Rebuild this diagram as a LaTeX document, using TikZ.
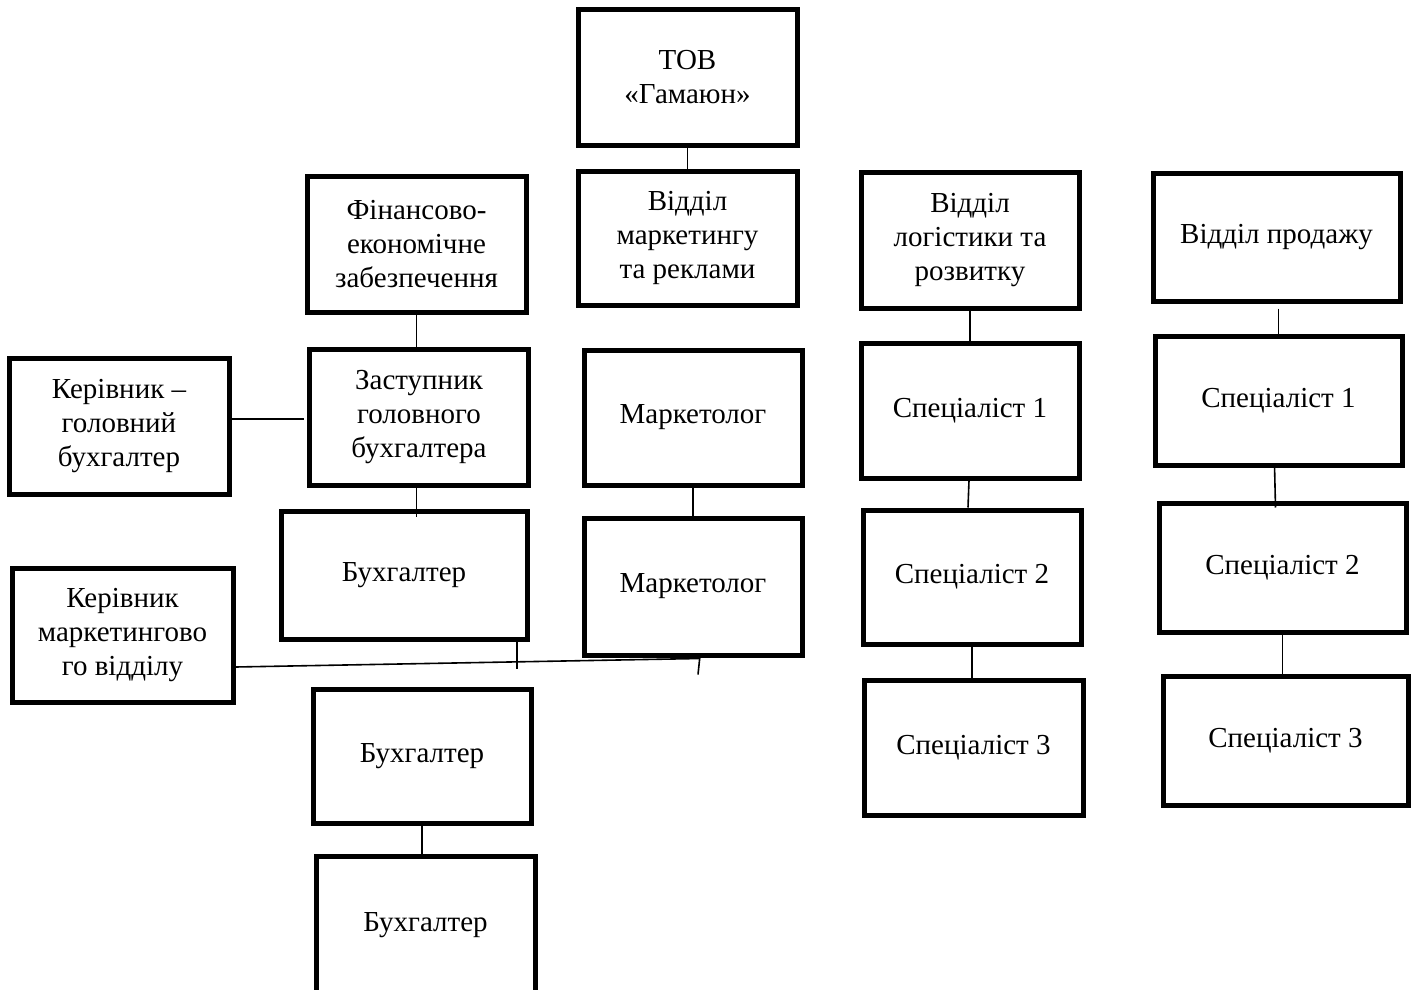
\documentclass[tikz,border=0pt]{standalone}
\usepackage{fontspec}
\setmainfont{Liberation Serif}
\usetikzlibrary{positioning, calc}

\begin{document}
\begin{tikzpicture}[x=1pt, y=-1pt,
    box/.style={draw, line width=5pt, rectangle, align=center, inner sep=0pt,
      font=\fontsize{29}{34}\selectfont},
    wh/.style 2 args={minimum width=#1pt, minimum height=#2pt},
    link/.style={line width=1.6pt}]
    \useasboundingbox (0,0) rectangle (1417,990);
    \clip (0,0) rectangle (1417,990);
    % керівництво
    \node[box, wh={219}{135}] (tov) at (687.5,77.5) {ТОВ\\«Гамаюн»};
    % відділи
    \node[box, wh={219}{136}] (fin) at (416.5,244) {Фінансово-\\економічне\\забезпечення};
    \node[box, wh={219}{134}] (mkt) at (687.5,238) {Відділ\\маркетингу\\та реклами};
    \node[box, wh={218}{136}] (log) at (970,240) {Відділ\\логістики та\\розвитку};
    \node[box, wh={247}{128}] (sales) at (1276.5,237) {Відділ продажу};
    % бухгалтерія
    \node[box, wh={220}{136}] (kerbuh) at (119,426) {Керівник –\\головний\\бухгалтер};
    \node[box, wh={219}{136}] (zast) at (419,417) {Заступник\\головного\\бухгалтера};
    \node[box, wh={246}{128}] (buh1) at (404,575) {Бухгалтер};
    \node[box, wh={221}{134}] (kermark) at (122.5,635) {Керівник\\маркетингово\\го відділу};
    \node[box, wh={218}{134}] (buh2) at (422,756) {Бухгалтер};
    \node[box, wh={219}{138}] (buh3) at (425.5,925) {Бухгалтер};
    % маркетинг
    \node[box, wh={218}{135}] (mkt1) at (693,417.5) {Маркетолог};
    \node[box, wh={218}{137}] (mkt2) at (693,586.5) {Маркетолог};
    % логістика
    \node[box, wh={218}{135}] (log1) at (970,410.5) {Спеціаліст 1};
    \node[box, wh={218}{134}] (log2) at (972,577) {Спеціаліст 2};
    \node[box, wh={219}{135}] (log3) at (973.5,747.5) {Спеціаліст 3};
    % продаж
    \node[box, wh={247}{129}] (sales1) at (1278.5,400.5) {Спеціаліст 1};
    \node[box, wh={247}{129}] (sales2) at (1282.5,567.5) {Спеціаліст 2};
    \node[box, wh={245}{129}] (sales3) at (1285.5,740.5) {Спеціаліст 3};
    % зв'язки
    \draw[link] (tov) -- (mkt);
    \draw[link] (fin) -- (fin |- zast.north);
    \draw[link] ([yshift=-2]kerbuh.east |- zast.west) -- ([xshift=-3,yshift=-2]zast.west);
    \draw[link] (zast.south -| fin) -- ([yshift=-8]buh1.north -| fin);
    \draw[link] (mkt1) -- (mkt2);
    \draw[link] (log) -- (log1);
    \draw[link] ([xshift=-1]log1.south) -- ([xshift=-4]log2.north);
    \draw[link] (log2) -- (log2 |- log3.north);
    \draw[link] ([yshift=-5]sales.south -| sales1) -- (sales1);
    \draw[link] ([xshift=-4,yshift=3]sales1.south) -- ([xshift=-7,yshift=-7]sales2.north);
    \draw[link] (sales2) -- (sales2 |- sales3.north);
    \draw[link] (buh2) -- (buh2 |- buh3.north);
    % лінія від керівника маркетингового відділу
    \draw[link] ([yshift=-32]kermark.east) -- ([xshift=7,yshift=-1]mkt2.south);
    \draw[link] ([xshift=113,yshift=4]buh1.south) -- ([xshift=113,yshift=-27]buh1.south);
    \draw[link] ([xshift=7,yshift=2]mkt2.south) -- ([xshift=5,yshift=-17]mkt2.south);
\end{tikzpicture}
\end{document}
